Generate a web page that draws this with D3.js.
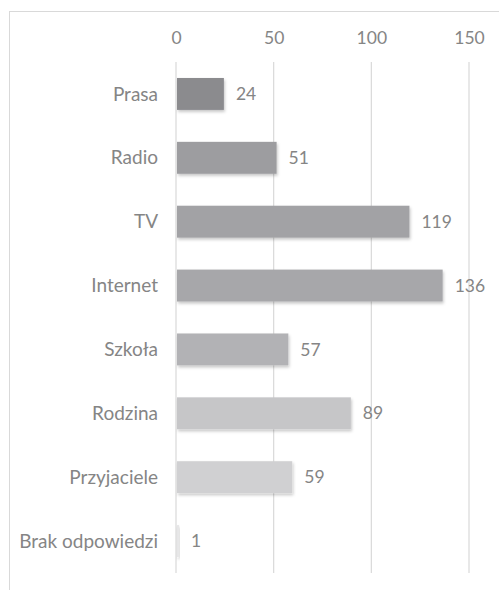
<!DOCTYPE html>
<html><head><meta charset="utf-8">
<script src="https://cdn.jsdelivr.net/npm/d3@7"></script>
<style>body{margin:0;background:#fff}svg{display:block}</style>
</head><body>
<svg id="c" width="499" height="590"></svg>
<script>
const categories = ["Prasa","Radio","TV","Internet","Szkoła","Rodzina","Przyjaciele","Brak odpowiedzi"];
const values = [24,51,119,136,57,89,59,1];
const barColors = ["#8b8b8e","#9d9da0","#a2a2a5","#a7a7aa","#b2b2b5","#c6c6c8","#d0d0d2","#e6e6e7"];
const tickValues = [0,50,100,150];

const svg = d3.select("#c");
const font = "Lato, 'Open Sans', sans-serif";
const txt = "#858585";
// outer border
svg.append("rect").attr("x",9.5).attr("y",11.5).attr("width",520).attr("height",600)
  .attr("fill","none").attr("stroke","#d9d9d9");

const x = d3.scaleLinear().domain([0,150]).range([176,469]);
const y = d3.scaleBand().domain(categories).range([62,573]).paddingInner(0.5).paddingOuter(0.25);

const defs = svg.append("defs");
const f = defs.append("filter").attr("id","sh").attr("x","-10%").attr("y","-20%").attr("width","130%").attr("height","160%");
f.append("feDropShadow").attr("dx",1).attr("dy",2).attr("stdDeviation",1.5).attr("flood-color","#000").attr("flood-opacity",0.22);

// gridlines
svg.append("g").selectAll("line").data(tickValues).join("line")
  .attr("x1",d=>x(d)).attr("x2",d=>x(d)).attr("y1",62).attr("y2",573)
  .attr("stroke","#d9d9d9").attr("stroke-width",1.2);

// top axis labels
const ax = svg.append("g").attr("transform","translate(0,44)")
  .call(d3.axisTop(x).tickValues(tickValues).tickSize(0).tickPadding(0));
ax.select(".domain").remove();
ax.selectAll("text").attr("fill",txt).style("font-family",font).style("font-size","17.5px");

// category labels
svg.append("g").selectAll("text").data(categories).join("text")
  .attr("x",158).attr("y",d=>y(d)+y.bandwidth()/2).attr("dy","0.35em")
  .attr("text-anchor","end").attr("fill",txt)
  .style("font-family",font).style("font-size","19px").text(d=>d);

// bars
svg.append("g").selectAll("rect").data(values).join("rect")
  .attr("x",x(0)+1).attr("y",(d,i)=>y(categories[i]))
  .attr("width",d=>x(d)-x(0)).attr("height",y.bandwidth())
  .attr("fill",(d,i)=>barColors[i]).attr("filter","url(#sh)");

// value labels
svg.append("g").selectAll("text").data(values).join("text")
  .attr("x",d=>x(d)+13).attr("y",(d,i)=>y(categories[i])+y.bandwidth()/2).attr("dy","0.35em")
  .attr("fill",txt).style("font-family",font).style("font-size","17.5px").text(d=>d);
</script>
</body></html>
